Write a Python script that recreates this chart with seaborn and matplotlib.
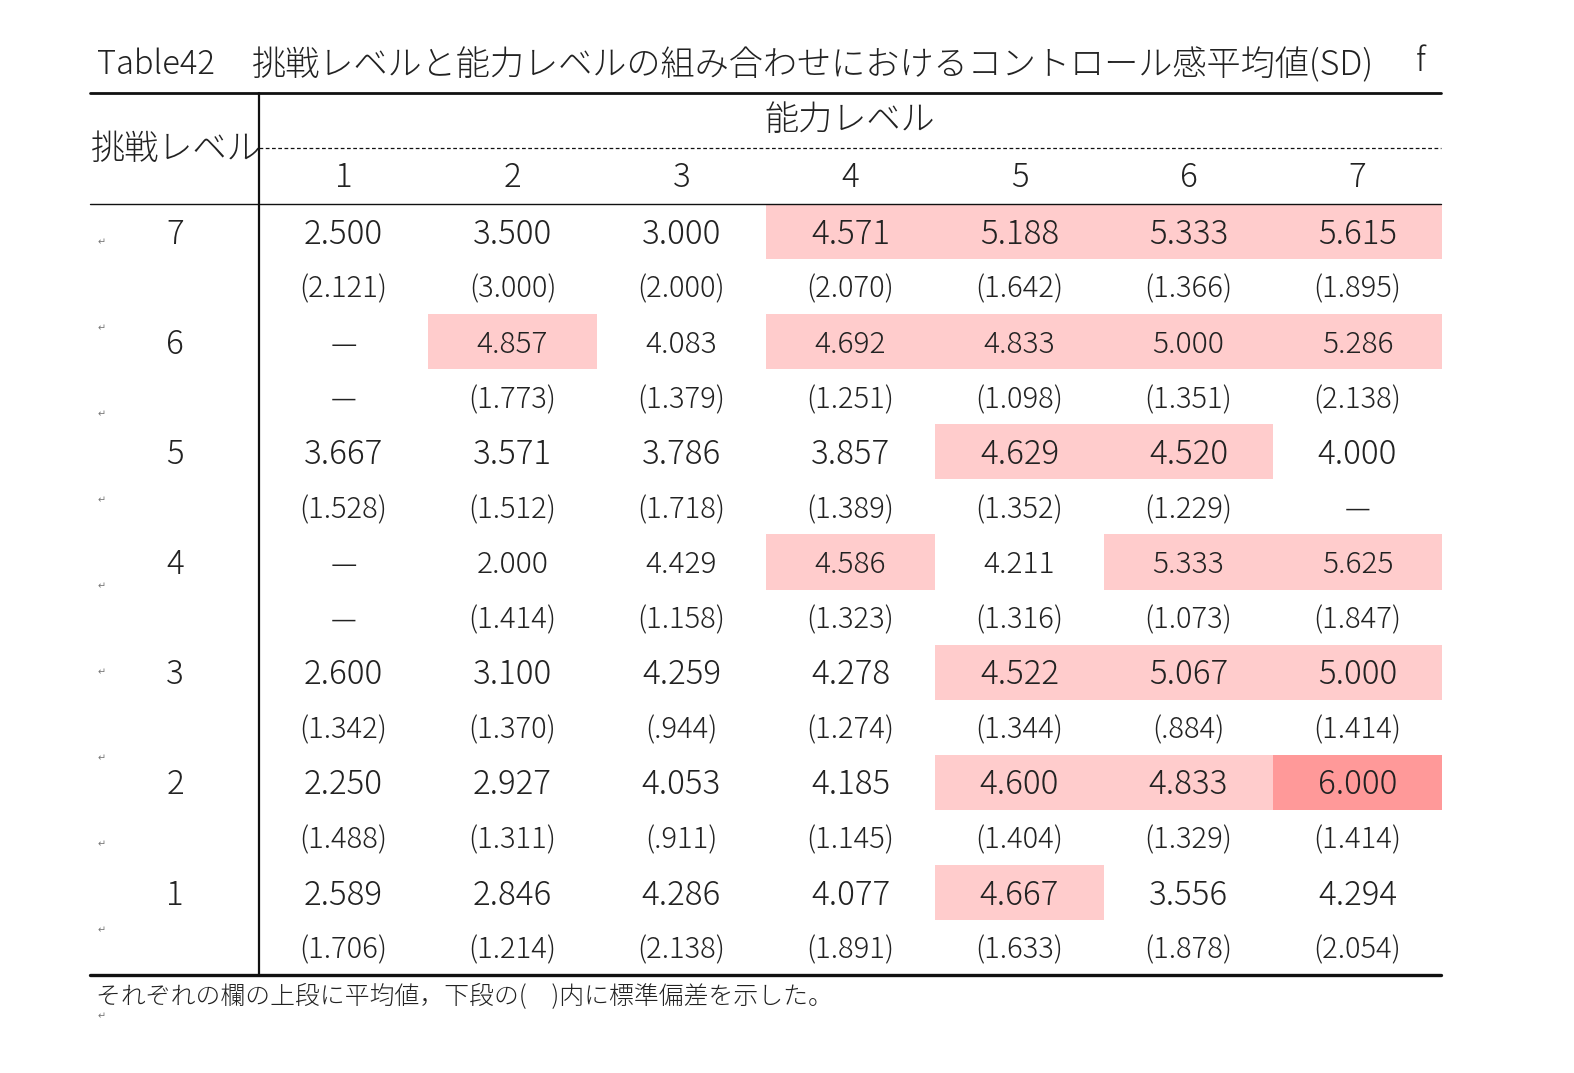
import numpy as np
import pandas as pd
import matplotlib
matplotlib.use("Agg")
import matplotlib.pyplot as plt
import seaborn as sns
from matplotlib.colors import ListedColormap, BoundaryNorm
from matplotlib.lines import Line2D
from matplotlib.transforms import blended_transform_factory, offset_copy

sns.set_theme(style="white")
plt.rcParams["font.family"] = ["Noto Sans CJK JP", "DejaVu Sans"]
plt.rcParams["font.weight"] = "light"

# challenge levels (rows, top to bottom) and ability levels (columns)
challenge_levels = ["7", "6", "5", "4", "3", "2", "1"]
ability_levels = ["1", "2", "3", "4", "5", "6", "7"]

# mean control feeling, None = no data
means = [
    [2.500, 3.500, 3.000, 4.571, 5.188, 5.333, 5.615],
    [None, 4.857, 4.083, 4.692, 4.833, 5.000, 5.286],
    [3.667, 3.571, 3.786, 3.857, 4.629, 4.520, 4.000],
    [None, 2.000, 4.429, 4.586, 4.211, 5.333, 5.625],
    [2.600, 3.100, 4.259, 4.278, 4.522, 5.067, 5.000],
    [2.250, 2.927, 4.053, 4.185, 4.600, 4.833, 6.000],
    [2.589, 2.846, 4.286, 4.077, 4.667, 3.556, 4.294],
]
sds = [
    ["(2.121)", "(3.000)", "(2.000)", "(2.070)", "(1.642)", "(1.366)", "(1.895)"],
    ["—", "(1.773)", "(1.379)", "(1.251)", "(1.098)", "(1.351)", "(2.138)"],
    ["(1.528)", "(1.512)", "(1.718)", "(1.389)", "(1.352)", "(1.229)", "—"],
    ["—", "(1.414)", "(1.158)", "(1.323)", "(1.316)", "(1.073)", "(1.847)"],
    ["(1.342)", "(1.370)", "(.944)", "(1.274)", "(1.344)", "(.884)", "(1.414)"],
    ["(1.488)", "(1.311)", "(.911)", "(1.145)", "(1.404)", "(1.329)", "(1.414)"],
    ["(1.706)", "(1.214)", "(2.138)", "(1.891)", "(1.633)", "(1.878)", "(2.054)"],
]
title_no = "Table42"
title = "挑戦レベルと能力レベルの組み合わせにおけるコントロール感平均値(SD)"
note = "それぞれの欄の上段に平均値，下段の(\u3000)内に標準偏差を示した。"

# interleave mean rows and sd rows -> 14 x 7 grid, sd rows left blank
grid = []
for r in range(len(challenge_levels)):
    grid.append([np.nan if v is None else v for v in means[r]])
    grid.append([np.nan] * len(ability_levels))
grid = pd.DataFrame(grid, columns=ability_levels)

W, H = 1574, 1073
fig = plt.figure(figsize=(W / 100, H / 100), dpi=100)
fx = lambda px: px / W
fy = lambda py: 1 - py / H

ax = fig.add_axes([fx(259), fy(975), fx(1442) - fx(259), fy(204) - fy(975)])
cmap = ListedColormap(["white", "#FFCCCC", "#FF9999"])
norm = BoundaryNorm([0, 4.5, 6.0, 7.0], 3)
sns.heatmap(grid, ax=ax, cmap=cmap, norm=norm, cbar=False,
            xticklabels=False, yticklabels=False, linewidths=0)
ax.set_xlabel("")
ax.set_ylabel("")
for s in ax.spines.values():
    s.set_visible(False)

txt = "#222222"
cjk = 24.6
small_rows = {"6", "4"}
cell_tr = offset_copy(ax.transData, fig, y=-3, units="dots")
row_tr = offset_copy(blended_transform_factory(fig.transFigure, ax.transData),
                     fig, y=-3, units="dots")
for r, lvl in enumerate(challenge_levels):
    msize = 21.5 if lvl in small_rows else 23.8
    for c in range(len(ability_levels)):
        v = means[r][c]
        ax.text(c + 0.5, 2 * r + 0.5, "—" if v is None else f"{v:.3f}",
                ha="center", va="center", fontsize=msize, color=txt, transform=cell_tr)
        ax.text(c + 0.5, 2 * r + 1.5, sds[r][c], ha="center", va="center",
                fontsize=21, color=txt, transform=cell_tr)
    # row label in the left column
    ax.text(fx(175), 2 * r + 0.5, lvl, ha="center", va="center", fontsize=23.8,
            color=txt, transform=row_tr)

# column headers
tr = blended_transform_factory(ax.transData, fig.transFigure)
for c, lvl in enumerate(ability_levels):
    ax.text(c + 0.5, fy(178), lvl, ha="center", va="center", fontsize=23.8,
            color=txt, transform=tr, clip_on=False)
fig.text(fx(850), fy(120), "能力レベル", ha="center", va="center", fontsize=cjk, color=txt)
fig.text(fx(91), fy(149), "挑戦レベル", ha="left", va="center", fontsize=cjk, color=txt)

# title and note
fig.text(fx(97), fy(65), title_no, ha="left", va="center", fontsize=23.5, color=txt)
fig.text(fx(252), fy(65), title, ha="left", va="center", fontsize=cjk, color=txt)
fig.text(fx(1421), fy(62), "f", ha="center", va="center", fontsize=23.5, color=txt)
fig.text(fx(96), fy(997), note, ha="left", va="center", fontsize=17.9, color=txt)

# paragraph marks (Word return symbols)
for k in range(10):
    fig.text(fx(102), fy(242 + 86 * k), "↵", ha="center", va="center",
             fontsize=7, color="#777777", family="DejaVu Sans", fontweight="normal")

# rules
def hline(y, x0, x1, lw, ls="-"):
    fig.add_artist(Line2D([fx(x0), fx(x1)], [fy(y), fy(y)], lw=lw, ls=ls,
                          color="#111111", transform=fig.transFigure))

hline(93, 90, 1441, 2.0)
hline(148, 259, 1441, 0.9, ls=(0, (3, 2)))
hline(204, 90, 1441, 1.0)
hline(975, 90, 1441, 2.4)
fig.add_artist(Line2D([fx(259), fx(259)], [fy(93), fy(975)], lw=1.6,
                      color="#111111", transform=fig.transFigure))

fig.savefig("out.png", dpi=100, facecolor="white")
